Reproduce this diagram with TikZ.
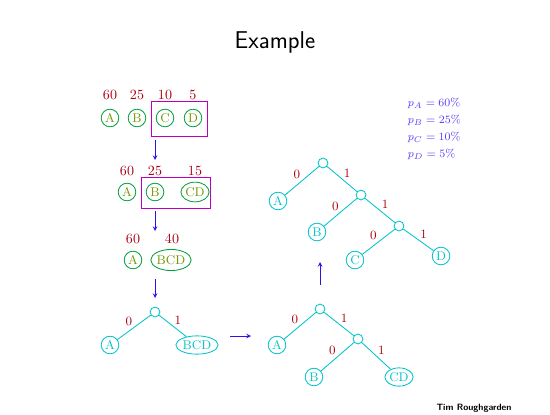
\documentclass[tikz,border=0pt]{standalone}
\usepackage{tikz}
\usetikzlibrary{shapes.geometric}
\usepackage{xcolor}

\definecolor{symgreen}{RGB}{0,160,60}
\definecolor{symtext}{RGB}{110,150,0}
\definecolor{wgtred}{RGB}{170,0,20}
\definecolor{boxmag}{RGB}{190,0,190}
\definecolor{flowblue}{RGB}{40,20,230}
\definecolor{treecyan}{RGB}{0,195,200}
\definecolor{probblue}{RGB}{90,60,250}

\begin{document}
\begin{tikzpicture}[x=0.025cm,y=-0.025cm,>=stealth,
    sym/.style={circle,draw=symgreen,text=symtext,line width=0.6pt,inner sep=0pt,minimum size=12.5pt,font=\small},
    grp/.style={ellipse,draw=symgreen,text=symtext,line width=0.6pt,inner sep=0pt,font=\small},
    wgt/.style={text=wgtred},
    box/.style={draw=boxmag,line width=0.6pt},
    flow/.style={->,draw=flowblue,line width=0.5pt},
    leaf/.style={circle,draw=treecyan,text=treecyan,line width=0.6pt,inner sep=0pt,minimum size=12.5pt,font=\small},
    leafgrp/.style={ellipse,draw=treecyan,text=treecyan,line width=0.6pt,inner sep=0pt,font=\small},
    knot/.style={circle,draw=treecyan,line width=0.6pt,inner sep=0pt,minimum size=7pt},
    edge/.style={draw=treecyan,line width=0.6pt},
    bit/.style={text=wgtred,inner sep=1pt,font=\small}]
  \useasboundingbox (0,0) rectangle (550,414);

  \node[font=\sffamily\LARGE] (title) at (275,42) {Example};

  % Etape 1
  \node[wgt] (w1a) at (110,95) {60};
  \node[wgt] (w1b) at (137,95) {25};
  \node[wgt] (w1c) at (165,95) {10};
  \node[wgt] (w1d) at (193,95) {5};
  \node[sym] (A1) at (110,118) {A};
  \node[sym] (B1) at (137,118) {B};
  \node[sym] (C1) at (165,118) {C};
  \node[sym] (D1) at (193,118) {D};
  \draw[box] (151,101) rectangle (207,136);

  \coordinate (f1s) at (155,140);
  \coordinate (f1e) at (155,160);
  \draw[flow] (f1s) -- (f1e);

  % Etape 2
  \node[wgt] (w2a) at (127,171) {60};
  \node[wgt] (w2b) at (155,171) {25};
  \node[wgt] (w2c) at (195,171) {15};
  \node[sym] (A2) at (127,192) {A};
  \node[sym] (B2) at (155,192) {B};
  \node[grp,minimum width=20pt,minimum height=14pt] (CD2) at (195,192) {CD};
  \draw[box] (141,177) rectangle (210,208);

  \coordinate (f2s) at (155,211);
  \coordinate (f2e) at (155,231);
  \draw[flow] (f2s) -- (f2e);

  % Etape 3
  \node[wgt] (w3a) at (133,239) {60};
  \node[wgt] (w3b) at (172,239) {40};
  \node[sym] (A3) at (133,260) {A};
  \node[grp,minimum width=25pt,minimum height=15pt] (BCD3) at (171,260) {BCD};

  \coordinate (f3s) at (155,279);
  \coordinate (f3e) at (155,298);
  \draw[flow] (f3s) -- (f3e);

  % Arbre 1
  \node[knot] (r1) at (155,312) {};
  \node[leaf] (A4) at (110,345) {A};
  \node[leafgrp,minimum width=30pt,minimum height=13pt] (BCD4) at (197,345) {BCD};
  \draw[edge] (r1) -- node[bit,above left] {0} (A4);
  \draw[edge] (r1) -- node[bit,above right] {1} (BCD4);

  \coordinate (f4s) at (230,336);
  \coordinate (f4e) at (251,336);
  \draw[flow] (f4s) -- (f4e);

  % Arbre 2
  \node[knot] (r2) at (320,309) {};
  \node[knot] (s2) at (358,339) {};
  \node[leaf] (A5) at (277,345) {A};
  \node[leaf] (B5) at (314,377) {B};
  \node[leafgrp,minimum width=20pt,minimum height=13pt] (CD5) at (399,377) {CD};
  \draw[edge] (r2) -- node[bit,above left] {0} (A5);
  \draw[edge] (r2) -- node[bit,above right] {1} (s2);
  \draw[edge] (s2) -- node[bit,above left] {0} (B5);
  \draw[edge] (s2) -- node[bit,above right] {1} (CD5);

  \coordinate (f5s) at (320,285);
  \coordinate (f5e) at (320,262);
  \draw[flow] (f5s) -- (f5e);

  % Arbre 3
  \node[knot] (r3) at (323,163) {};
  \node[knot] (s3) at (361,195) {};
  \node[knot] (t3) at (399,226) {};
  \node[leaf] (A6) at (278,201) {A};
  \node[leaf] (B6) at (317,232) {B};
  \node[leaf] (C6) at (355,260) {C};
  \node[leaf] (D6) at (441,256) {D};
  \draw[edge] (r3) -- node[bit,above left] {0} (A6);
  \draw[edge] (r3) -- node[bit,above right] {1} (s3);
  \draw[edge] (s3) -- node[bit,above left] {0} (B6);
  \draw[edge] (s3) -- node[bit,above right] {1} (t3);
  \draw[edge] (t3) -- node[bit,above left] {0} (C6);
  \draw[edge] (t3) -- node[bit,above right] {1} (D6);

  % Probabilites
  \node[anchor=west,text=probblue,font=\footnotesize] (pA) at (403,103) {$p_A = 60\%$};
  \node[anchor=west,text=probblue,font=\footnotesize] (pB) at (403,120) {$p_B = 25\%$};
  \node[anchor=west,text=probblue,font=\footnotesize] (pC) at (403,137) {$p_C = 10\%$};
  \node[anchor=west,text=probblue,font=\footnotesize] (pD) at (403,154) {$p_D = 5\%$};

  \node[font=\sffamily\bfseries\fontsize{6.5}{8}\selectfont] (auth) at (474,408) {Tim Roughgarden};
\end{tikzpicture}
\end{document}
